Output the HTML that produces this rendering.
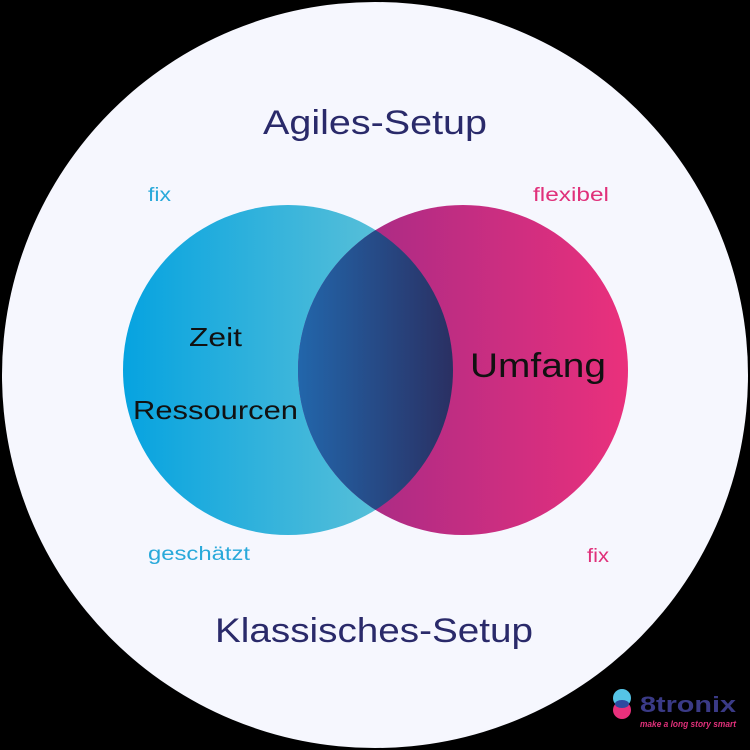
<!DOCTYPE html>
<html><head><meta charset="utf-8"><style>
html,body{margin:0;padding:0;background:#000;width:750px;height:750px;overflow:hidden}
</style></head><body>
<svg width="750" height="750" viewBox="0 0 750 750" xmlns="http://www.w3.org/2000/svg" font-family="Liberation Sans, sans-serif">
<defs>
<linearGradient id="gl" x1="0" x2="1" y1="0" y2="0"><stop offset="0" stop-color="#06a3e0"/><stop offset="1" stop-color="#6ec7d6"/></linearGradient>
<linearGradient id="gr" x1="0" x2="1" y1="0" y2="0"><stop offset="0" stop-color="#9a2a88"/><stop offset="1" stop-color="#ea307c"/></linearGradient>
<linearGradient id="gm" x1="298" x2="452" y1="0" y2="0" gradientUnits="userSpaceOnUse"><stop offset="0" stop-color="#2266ab"/><stop offset="1" stop-color="#2a3063"/></linearGradient>
<clipPath id="cl"><circle cx="288" cy="370" r="165"/></clipPath>
</defs>
<rect width="750" height="750" fill="#000"/>
<circle cx="375" cy="375" r="373" fill="#f6f7fe"/>
<circle cx="288" cy="370" r="165" fill="url(#gl)"/>
<circle cx="463" cy="370" r="165" fill="url(#gr)"/>
<circle cx="463" cy="370" r="165" fill="url(#gm)" clip-path="url(#cl)"/>
<text x="263" y="134" font-size="34" fill="#2a2a6a" textLength="224" lengthAdjust="spacingAndGlyphs">Agiles-Setup</text>
<text x="215" y="642" font-size="34" fill="#2a2a6a" textLength="318" lengthAdjust="spacingAndGlyphs">Klassisches-Setup</text>
<text x="148" y="201" font-size="19" fill="#29a9da" textLength="23" lengthAdjust="spacingAndGlyphs">fix</text>
<text x="533" y="201" font-size="19" fill="#e0307a" textLength="76" lengthAdjust="spacingAndGlyphs">flexibel</text>
<text x="148" y="560" font-size="19" fill="#29a9da" textLength="102" lengthAdjust="spacingAndGlyphs">geschätzt</text>
<text x="587" y="562" font-size="19" fill="#e0307a" textLength="22" lengthAdjust="spacingAndGlyphs">fix</text>
<text x="189" y="346" font-size="26" fill="#111" textLength="53" lengthAdjust="spacingAndGlyphs">Zeit</text>
<text x="133" y="419" font-size="26" fill="#111" textLength="165" lengthAdjust="spacingAndGlyphs">Ressourcen</text>
<text x="470" y="377" font-size="34" fill="#111" textLength="136" lengthAdjust="spacingAndGlyphs">Umfang</text>
<circle cx="622" cy="698" r="9" fill="#55c4e6"/>
<circle cx="622" cy="710" r="9" fill="#e8307c"/>
<ellipse cx="622" cy="704" rx="7" ry="4" fill="#2d4aa0"/>
<text x="640" y="712" font-size="22" font-weight="bold" fill="#3a3a86" textLength="96" lengthAdjust="spacingAndGlyphs">8tronix</text>
<text x="640" y="727" font-size="9" font-style="italic" font-weight="bold" fill="#e0307a" textLength="96" lengthAdjust="spacingAndGlyphs">make a long story smart</text>
</svg>
</body></html>
